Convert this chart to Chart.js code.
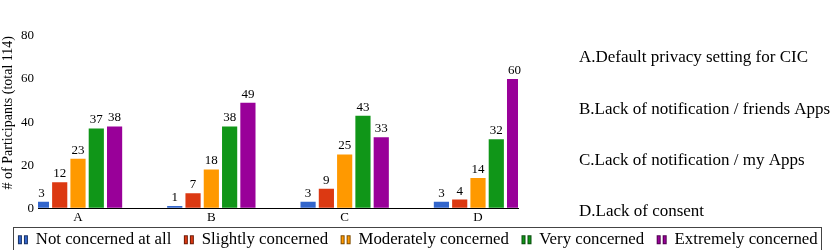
<!DOCTYPE html>
<html>
<head>
<meta charset="utf-8">
<script src="https://cdn.jsdelivr.net/npm/chart.js@4.4.1/dist/chart.umd.min.js"></script>
<style>
  html, body { margin: 0; padding: 0; background: #fff; }
  #wrap { position: relative; width: 836px; height: 250px; }
</style>
</head>
<body>
<div id="wrap"><canvas id="concernChart"></canvas></div>
<script>
// categories and their long names
const categories = ['A', 'B', 'C', 'D'];
const descriptions = [
  'A.Default privacy setting for CIC',
  'B.Lack of notification / friends Apps',
  'C.Lack of notification / my Apps',
  'D.Lack of consent'
];

// series (number of participants)
const levels = ['Not concerned at all', 'Slightly concerned', 'Moderately concerned', 'Very concerned', 'Extremely concerned'];
const notConcerned = [3, 1, 3, 3];
const slightlyConcerned = [12, 7, 9, 4];
const moderatelyConcerned = [23, 18, 25, 14];
const veryConcerned = [37, 38, 43, 32];
const extremelyConcerned = [38, 49, 33, 60];

const yTicks = [0, 20, 40, 60, 80];

const colors = ['#3366cc', '#dc3912', '#ff9900', '#109618', '#990099'];
const edges = ['#1a3366', '#6e1c09', '#804d00', '#084b0c', '#4d004d'];
const serif = '"Liberation Serif", "Times New Roman", serif';

function legendIcon(fill, edge) {
    const c = document.createElement('canvas');
    c.width = 12;
    c.height = 12;
    const g = c.getContext('2d');
    g.fillStyle = fill;
    g.strokeStyle = edge;
    g.lineWidth = 1;
    g.fillRect(1.5, 2.5, 3, 8);
    g.strokeRect(1.5, 2.5, 3, 8);
    g.fillRect(7.5, 2.5, 3, 8);
    g.strokeRect(7.5, 2.5, 3, 8);
    return c;
}
const icons = colors.map((c, i) => legendIcon(c, edges[i]));

const series = [notConcerned, slightlyConcerned, moderatelyConcerned, veryConcerned, extremelyConcerned];

// value labels, legend frame and the category descriptions
const extras = {
    id: 'extras',
    afterLayout(chart) {
        // pull the legend up a bit so it sits close to the axis labels
        chart.legend.top -= 10;
        chart.legend.bottom -= 10;
    },
    afterDraw(chart) {
        const ctx = chart.ctx;
        ctx.save();
        ctx.fillStyle = '#000';
        ctx.textAlign = 'center';
        ctx.textBaseline = 'bottom';
        ctx.font = '13px ' + serif;
        chart.data.datasets.forEach((ds, i) => {
            const meta = chart.getDatasetMeta(i);
            meta.data.forEach((bar, j) => {
                ctx.fillText(String(ds.data[j].y), bar.x, bar.y - 2);
            });
        });

        // legend box
        const boxes = chart.legend.legendHitBoxes;
        if (boxes.length) {
            const first = boxes[0];
            const last = boxes[boxes.length - 1];
            const left = Math.round(first.left) - 4.5;
            const right = Math.round(last.left + last.width) + 3.5;
            const top = Math.round(first.top) - 3.5;
            ctx.strokeStyle = '#444';
            ctx.lineWidth = 1;
            ctx.strokeRect(left, top, right - left, 30);
        }

        // descriptions on the right
        ctx.textAlign = 'left';
        ctx.textBaseline = 'alphabetic';
        ctx.font = '17px ' + serif;
        const x0 = chart.chartArea.right + 61;
        const baselines = [62, 114, 165, 216];
        descriptions.forEach((d, i) => ctx.fillText(d, x0, baselines[i]));
        ctx.restore();
    }
};

const concernCtx = document.getElementById('concernChart');

new Chart(concernCtx, {
    type: 'bar',
    data: {
        datasets: levels.map((label, i) => ({
            label: label,
            data: series[i].map((v, j) => ({ x: j, y: v })),
            backgroundColor: colors[i],
            borderWidth: 0,
            categoryPercentage: 0.686,
            barPercentage: 0.83
        }))
    },
    options: {
        responsive: true,
        maintainAspectRatio: false,
        animation: false,
        layout: { padding: { top: 36, left: 0, right: 0, bottom: -17.6 } },
        plugins: {
            tooltip: { enabled: false },
            legend: {
                position: 'bottom',
                labels: {
                    usePointStyle: true,
                    boxWidth: 9,
                    padding: 13,
                    color: '#000',
                    font: { family: serif, size: 16.8 },
                    generateLabels: (chart) => Chart.defaults.plugins.legend.labels.generateLabels(chart)
                        .map((item, i) => Object.assign(item, { pointStyle: icons[i] }))
                }
            }
        },
        scales: {
            x: {
                type: 'linear',
                min: -0.3,
                max: 3.3,
                offset: false,
                z: 2,
                afterBuildTicks: (s) => { s.ticks = categories.map((c, i) => ({ value: i })); },
                ticks: {
                    callback: (v) => categories[v],
                    color: '#000',
                    font: { family: serif, size: 13 },
                    padding: 2,
                    autoSkip: false,
                    maxRotation: 0
                },
                grid: { display: false, drawTicks: false },
                border: { display: true, color: '#000', width: 1 }
            },
            y: {
                min: 0,
                max: 80,
                z: 1,
                afterBuildTicks: (s) => { s.ticks = yTicks.map((v) => ({ value: v })); },
                afterFit: (s) => { s.width = 38; },
                ticks: {
                    color: '#000',
                    font: { family: serif, size: 13 },
                    padding: 4
                },
                grid: {
                    drawTicks: false,
                    lineWidth: 1,
                    color: (c) => (c.tick && c.tick.value === 0) ? 'rgba(0,0,0,0)' : '#ffffff'
                },
                border: { display: false },
                title: {
                    display: true,
                    text: '# of Participants (total 114)',
                    align: 'end',
                    color: '#000',
                    font: { family: serif, size: 14 },
                    padding: { top: 0, bottom: 2 }
                }
            },
            side: {
                position: 'right',
                grid: { display: false, drawTicks: false },
                ticks: { display: false },
                border: { display: false },
                afterFit: (s) => { s.width = 318; }
            }
        }
    },
    plugins: [extras]
});
</script>
</body>
</html>
